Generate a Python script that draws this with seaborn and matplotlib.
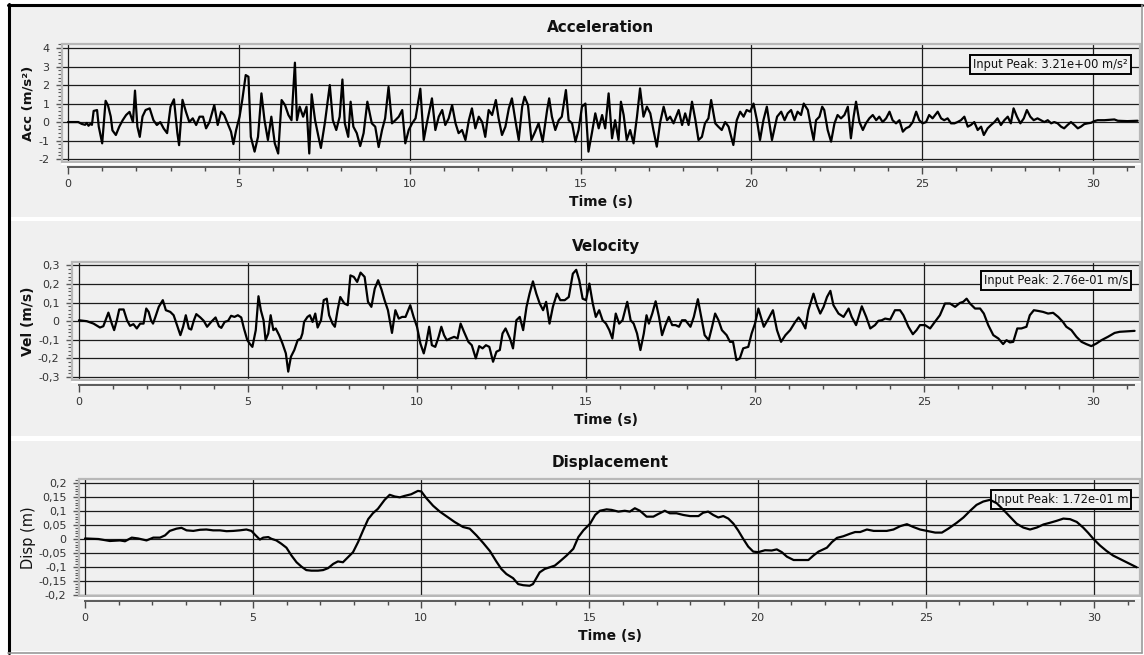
import matplotlib
matplotlib.use("Agg")
import matplotlib.pyplot as plt
import matplotlib.ticker as mticker
from matplotlib.patches import Rectangle
from matplotlib.lines import Line2D
from matplotlib.transforms import offset_copy
import pandas as pd
import seaborn as sns

# ---------------------------------------------------------------- data
acc_time = [
    0.00, 0.30, 0.40, 0.50, 0.55, 0.60, 0.65, 0.70, 0.75, 0.85, 0.90, 1.00, 1.10, 1.17, 1.25,
    1.30, 1.40, 1.50, 1.60, 1.70, 1.80, 1.90, 1.96, 2.03, 2.10, 2.18, 2.27, 2.39, 2.50, 2.60,
    2.70, 2.80, 2.90, 3.00, 3.10, 3.20, 3.25, 3.35, 3.45, 3.55, 3.65, 3.75, 3.85, 3.95, 4.04,
    4.14, 4.28, 4.38, 4.48, 4.57, 4.67, 4.77, 4.84, 4.92, 5.02, 5.10, 5.20, 5.28, 5.35, 5.46,
    5.56, 5.66, 5.75, 5.85, 5.95, 6.05, 6.15, 6.25, 6.35, 6.45, 6.54, 6.64, 6.70, 6.78, 6.88,
    6.98, 7.06, 7.13, 7.23, 7.33, 7.40, 7.52, 7.66, 7.75, 7.85, 7.95, 8.03, 8.10, 8.20, 8.27,
    8.35, 8.45, 8.55, 8.65, 8.76, 8.89, 8.99, 9.09, 9.19, 9.28, 9.38, 9.48, 9.58, 9.68, 9.78,
    9.87, 9.97, 10.07, 10.17, 10.31, 10.41, 10.50, 10.65, 10.75, 10.85, 10.95, 11.04, 11.14, 11.24, 11.34,
    11.43, 11.53, 11.63, 11.73, 11.82, 11.92, 12.02, 12.12, 12.21, 12.31, 12.41, 12.52, 12.60, 12.70, 12.80,
    12.90, 12.99, 13.09, 13.19, 13.29, 13.36, 13.46, 13.56, 13.67, 13.77, 13.89, 14.02, 14.08, 14.16, 14.26,
    14.36, 14.45, 14.57, 14.65, 14.75, 14.85, 14.94, 15.04, 15.14, 15.23, 15.33, 15.43, 15.53, 15.63, 15.72,
    15.82, 15.92, 16.01, 16.11, 16.18, 16.26, 16.35, 16.45, 16.55, 16.65, 16.74, 16.84, 16.94, 17.04, 17.13,
    17.23, 17.33, 17.43, 17.53, 17.62, 17.72, 17.87, 17.97, 18.06, 18.16, 18.26, 18.36, 18.45, 18.55, 18.64,
    18.74, 18.82, 18.94, 19.03, 19.13, 19.23, 19.33, 19.47, 19.57, 19.67, 19.77, 19.86, 19.96, 20.06, 20.16,
    20.25, 20.35, 20.45, 20.60, 20.75, 20.87, 20.97, 21.06, 21.16, 21.26, 21.35, 21.45, 21.53, 21.65, 21.74,
    21.82, 21.89, 21.99, 22.07, 22.13, 22.23, 22.33, 22.43, 22.52, 22.62, 22.72, 22.82, 22.91, 22.99, 23.06,
    23.16, 23.26, 23.35, 23.45, 23.55, 23.65, 23.74, 23.84, 23.94, 24.04, 24.13, 24.23, 24.33, 24.43, 24.52,
    24.62, 24.72, 24.82, 24.91, 25.01, 25.11, 25.20, 25.30, 25.45, 25.55, 25.64, 25.74, 25.84, 25.94, 26.03,
    26.13, 26.23, 26.33, 26.42, 26.52, 26.62, 26.72, 26.80, 26.91, 27.01, 27.11, 27.20, 27.30, 27.40, 27.50,
    27.59, 27.67, 27.77, 27.87, 27.97, 28.06, 28.16, 28.26, 28.37, 28.47, 28.57, 28.67, 28.77, 28.86, 28.96,
    29.06, 29.15, 29.25, 29.35, 29.45, 29.55, 29.64, 29.74, 29.84, 29.94, 30.03, 30.13, 30.33, 30.62, 30.72,
    31.00, 31.30,
]
acc_values = [
    0.00, 0.00, -0.10, -0.15, -0.05, -0.20, -0.10, -0.15, 0.60, 0.65, -0.25, -1.15, 1.15, 0.90, 0.30,
    -0.45, -0.70, -0.25, 0.10, 0.38, 0.55, 0.00, 1.70, -0.25, -0.80, 0.30, 0.65, 0.74, 0.10, -0.16,
    0.00, -0.35, -0.60, 0.83, 1.23, -0.60, -1.25, 1.20, 0.56, 0.00, 0.20, -0.16, 0.29, 0.29, -0.34,
    0.00, 0.92, -0.16, 0.56, 0.38, -0.07, -0.52, -1.19, -0.43, 0.29, 1.20, 2.54, 2.45, -0.80, -1.60,
    -0.80, 1.55, 0.10, -0.97, 0.29, -1.15, -1.70, 1.19, 0.92, 0.38, 0.10, 3.21, 0.10, 0.83, 0.29,
    0.83, -1.70, 1.50, 0.10, -0.80, -1.40, 0.00, 2.00, 0.10, -0.43, 0.29, 2.30, -0.07, -0.80, 1.10,
    -0.25, -0.60, -1.30, -0.60, 1.10, -0.07, -0.25, -1.35, -0.43, 0.20, 1.90, -0.07, 0.10, 0.29, 0.65,
    -1.15, -0.43, -0.07, 0.20, 1.80, -0.97, -0.07, 1.28, -0.43, 0.29, 0.65, -0.16, 0.20, 0.92, -0.07,
    -0.60, -0.43, -0.97, 0.10, 0.74, -0.34, 0.29, 0.00, -0.80, 0.65, 0.38, 1.19, 0.20, -0.70, -0.25,
    0.74, 1.28, 0.10, -0.97, 0.83, 1.37, 0.92, -0.97, -0.52, -0.07, -1.06, 0.65, 1.28, 0.29, -0.43,
    0.10, 0.29, 1.73, 0.10, -0.07, -1.06, -0.43, 0.83, 1.00, -1.60, -0.60, 0.47, -0.34, 0.38, -0.34,
    1.55, -0.88, 0.10, -0.97, 1.10, 0.38, -0.97, -0.43, -1.15, 0.29, 1.82, 0.29, 0.83, 0.47, -0.43,
    -1.33, 0.00, 0.83, 0.10, 0.29, -0.07, 0.65, -0.16, 0.47, -0.16, 1.10, 0.10, -0.97, -0.80, -0.07,
    0.20, 1.19, -0.07, -0.25, -0.43, 0.00, -0.25, -1.24, 0.10, 0.56, 0.29, 0.65, 0.56, 1.00, 0.10,
    -0.97, 0.10, 0.83, -0.97, 0.29, 0.56, 0.10, 0.47, 0.65, 0.10, 0.56, 0.38, 1.00, 0.65, -0.25,
    -0.97, 0.10, 0.29, 0.83, 0.65, -0.43, -1.06, -0.07, 0.38, 0.20, 0.38, 0.83, -0.88, 0.29, 1.10,
    0.00, -0.43, -0.07, 0.20, 0.38, 0.10, 0.29, 0.00, 0.20, 0.56, 0.10, -0.07, 0.10, -0.52, -0.34,
    -0.25, 0.00, 0.56, 0.10, -0.07, 0.00, 0.38, 0.20, 0.56, 0.20, 0.10, 0.20, -0.07, -0.07, 0.00,
    0.10, 0.29, -0.25, -0.16, 0.00, -0.43, -0.25, -0.70, -0.34, -0.16, 0.00, 0.20, -0.16, 0.10, 0.29,
    -0.07, 0.74, 0.29, -0.07, 0.20, 0.65, 0.29, 0.10, 0.20, 0.10, 0.00, 0.10, -0.07, 0.00, -0.07,
    -0.25, -0.34, -0.16, 0.00, -0.16, -0.34, -0.25, -0.11, -0.07, -0.04, 0.05, 0.10, 0.10, 0.14, 0.07,
    0.05, 0.07,
]

vel_time = [
    0.00, 0.23, 0.43, 0.62, 0.72, 0.87, 0.97, 1.04, 1.12, 1.19, 1.32, 1.42, 1.51, 1.61, 1.71,
    1.81, 1.91, 1.99, 2.06, 2.13, 2.19, 2.26, 2.36, 2.48, 2.57, 2.70, 2.80, 2.90, 3.00, 3.08,
    3.16, 3.25, 3.32, 3.40, 3.47, 3.59, 3.69, 3.79, 3.91, 4.04, 4.14, 4.21, 4.31, 4.41, 4.50,
    4.60, 4.70, 4.80, 4.88, 4.98, 5.06, 5.13, 5.23, 5.31, 5.38, 5.46, 5.52, 5.60, 5.67, 5.75,
    5.82, 5.92, 6.02, 6.12, 6.19, 6.27, 6.37, 6.47, 6.56, 6.61, 6.66, 6.76, 6.83, 6.91, 6.99,
    7.06, 7.16, 7.24, 7.33, 7.40, 7.50, 7.57, 7.65, 7.73, 7.85, 7.95, 8.03, 8.13, 8.23, 8.33,
    8.45, 8.55, 8.65, 8.75, 8.85, 8.95, 9.04, 9.14, 9.26, 9.36, 9.46, 9.56, 9.66, 9.80, 9.90,
    10.00, 10.10, 10.20, 10.27, 10.36, 10.44, 10.54, 10.64, 10.72, 10.80, 10.88, 10.98, 11.10, 11.20, 11.29,
    11.39, 11.52, 11.62, 11.74, 11.84, 11.94, 12.04, 12.14, 12.25, 12.35, 12.45, 12.53, 12.62, 12.75, 12.84,
    12.94, 13.04, 13.14, 13.24, 13.33, 13.43, 13.53, 13.63, 13.73, 13.82, 13.92, 14.02, 14.14, 14.24, 14.37,
    14.49, 14.61, 14.71, 14.80, 14.90, 15.00, 15.10, 15.20, 15.29, 15.39, 15.49, 15.59, 15.69, 15.78, 15.88,
    15.98, 16.08, 16.22, 16.32, 16.41, 16.51, 16.61, 16.71, 16.79, 16.86, 16.96, 17.06, 17.16, 17.25, 17.35,
    17.45, 17.55, 17.65, 17.75, 17.84, 17.94, 18.09, 18.19, 18.31, 18.41, 18.51, 18.63, 18.73, 18.82, 18.92,
    19.02, 19.16, 19.26, 19.35, 19.45, 19.55, 19.65, 19.80, 19.90, 20.00, 20.10, 20.26, 20.40, 20.53, 20.65,
    20.77, 20.90, 21.04, 21.19, 21.29, 21.39, 21.49, 21.58, 21.73, 21.83, 21.93, 22.03, 22.13, 22.23, 22.32,
    22.47, 22.62, 22.77, 22.86, 22.99, 23.11, 23.16, 23.29, 23.41, 23.55, 23.65, 23.75, 23.85, 24.00, 24.14,
    24.29, 24.39, 24.54, 24.67, 24.78, 24.88, 25.03, 25.18, 25.32, 25.47, 25.62, 25.77, 25.92, 26.06, 26.16,
    26.26, 26.36, 26.51, 26.66, 26.77, 26.90, 27.05, 27.20, 27.34, 27.44, 27.54, 27.64, 27.76, 27.88, 28.03,
    28.13, 28.25, 28.38, 28.52, 28.67, 28.82, 28.97, 29.11, 29.21, 29.36, 29.51, 29.66, 29.80, 29.95, 30.10,
    30.25, 30.44, 30.64, 30.79, 30.98, 31.23,
]
vel_values = [
    0.005, 0.000, -0.013, -0.034, -0.027, 0.046, -0.013, -0.048, 0.005, 0.063, 0.063, 0.005, -0.025, -0.016, -0.039,
    -0.013, -0.013, 0.068, 0.050, 0.005, -0.013, 0.023, 0.077, 0.113, 0.059, 0.050, 0.032, -0.021, -0.075, -0.030,
    0.032, -0.039, -0.045, 0.005, 0.038, 0.020, 0.002, -0.030, -0.004, 0.020, -0.027, -0.036, -0.004, 0.002, 0.029,
    0.023, 0.032, 0.020, -0.039, -0.102, -0.123, -0.138, -0.048, 0.134, 0.059, 0.005, -0.102, -0.066, 0.032, -0.048,
    -0.039, -0.075, -0.120, -0.173, -0.271, -0.191, -0.155, -0.102, -0.093, -0.066, -0.004, 0.023, 0.032, -0.004, 0.041,
    -0.034, 0.005, 0.113, 0.121, 0.032, -0.013, -0.030, 0.059, 0.130, 0.095, 0.086, 0.246, 0.238, 0.211, 0.261,
    0.238, 0.104, 0.077, 0.175, 0.220, 0.170, 0.113, 0.059, -0.063, 0.059, 0.014, 0.023, 0.023, 0.086, 0.023,
    -0.030, -0.120, -0.173, -0.120, -0.030, -0.129, -0.138, -0.084, -0.030, -0.075, -0.102, -0.093, -0.084, -0.093, -0.013,
    -0.057, -0.111, -0.129, -0.200, -0.134, -0.146, -0.129, -0.138, -0.218, -0.164, -0.155, -0.066, -0.039, -0.093, -0.146,
    0.005, 0.023, -0.048, 0.077, 0.148, 0.214, 0.148, 0.095, 0.059, 0.104, -0.013, 0.077, 0.148, 0.113, 0.113,
    0.130, 0.255, 0.276, 0.220, 0.121, 0.113, 0.202, 0.095, 0.023, 0.059, 0.005, -0.013, -0.048, -0.093, 0.041,
    -0.013, 0.005, 0.104, 0.005, -0.013, -0.066, -0.155, -0.066, 0.032, -0.013, 0.041, 0.107, 0.023, -0.075, -0.021,
    0.023, -0.021, -0.021, -0.030, 0.005, 0.005, -0.030, 0.023, 0.118, 0.023, -0.075, -0.102, -0.030, 0.041, 0.005,
    -0.048, -0.075, -0.111, -0.111, -0.209, -0.200, -0.146, -0.138, -0.066, -0.013, 0.068, -0.030, 0.014, 0.059, -0.048,
    -0.111, -0.075, -0.048, -0.004, 0.020, -0.004, -0.039, 0.059, 0.148, 0.086, 0.041, 0.077, 0.130, 0.163, 0.086,
    0.041, 0.023, 0.068, 0.023, -0.021, 0.050, 0.080, 0.023, -0.039, -0.021, 0.002, 0.005, 0.014, 0.009, 0.059,
    0.059, 0.032, -0.030, -0.070, -0.048, -0.021, -0.021, -0.039, -0.004, 0.032, 0.095, 0.095, 0.077, 0.098, 0.104,
    0.121, 0.095, 0.068, 0.068, 0.041, -0.021, -0.075, -0.093, -0.123, -0.102, -0.114, -0.111, -0.039, -0.039, -0.030,
    0.032, 0.059, 0.055, 0.050, 0.041, 0.045, 0.023, -0.004, -0.030, -0.048, -0.084, -0.111, -0.123, -0.134, -0.120,
    -0.102, -0.084, -0.063, -0.057, -0.055, -0.052,
]

disp_time = [
    0.00, 0.40, 0.74, 1.04, 1.19, 1.39, 1.58, 1.83, 2.03, 2.23, 2.38, 2.52, 2.72, 2.87, 3.02,
    3.22, 3.42, 3.61, 3.81, 4.01, 4.21, 4.41, 4.60, 4.80, 4.95, 5.05, 5.20, 5.30, 5.45, 5.54,
    5.69, 5.84, 5.99, 6.14, 6.29, 6.44, 6.58, 6.73, 6.93, 7.08, 7.23, 7.38, 7.52, 7.67, 7.82,
    7.97, 8.12, 8.27, 8.42, 8.56, 8.71, 8.91, 9.06, 9.21, 9.36, 9.50, 9.70, 9.90, 10.00, 10.15,
    10.35, 10.55, 10.74, 10.99, 11.24, 11.44, 11.64, 11.84, 12.04, 12.23, 12.38, 12.53, 12.73, 12.88, 13.03,
    13.22, 13.32, 13.42, 13.52, 13.67, 13.82, 13.97, 14.12, 14.32, 14.52, 14.67, 14.82, 15.02, 15.17, 15.31,
    15.51, 15.66, 15.86, 16.05, 16.20, 16.35, 16.50, 16.70, 16.90, 17.04, 17.24, 17.39, 17.59, 17.79, 17.99,
    18.24, 18.38, 18.53, 18.68, 18.83, 18.98, 19.13, 19.28, 19.42, 19.57, 19.72, 19.87, 20.02, 20.22, 20.42,
    20.57, 20.72, 20.87, 21.07, 21.27, 21.51, 21.66, 21.81, 22.06, 22.21, 22.36, 22.55, 22.75, 22.90, 23.05,
    23.25, 23.45, 23.65, 23.84, 24.04, 24.24, 24.44, 24.63, 24.83, 25.03, 25.28, 25.48, 25.67, 25.92, 26.12,
    26.32, 26.51, 26.71, 26.91, 27.11, 27.31, 27.50, 27.70, 27.90, 28.10, 28.30, 28.50, 28.69, 28.89, 29.09,
    29.29, 29.49, 29.68, 29.83, 29.98, 30.18, 30.38, 30.57, 30.77, 30.97, 31.17, 31.27,
]
disp_values = [
    0.002, 0.000, -0.007, -0.005, -0.008, 0.005, 0.002, -0.005, 0.005, 0.005, 0.013, 0.029, 0.037, 0.040, 0.031,
    0.029, 0.033, 0.034, 0.031, 0.031, 0.028, 0.029, 0.031, 0.034, 0.029, 0.016, -0.002, 0.005, 0.007, 0.001,
    -0.005, -0.017, -0.031, -0.059, -0.083, -0.099, -0.111, -0.113, -0.113, -0.111, -0.104, -0.089, -0.080, -0.083, -0.065,
    -0.047, -0.011, 0.031, 0.071, 0.092, 0.108, 0.140, 0.158, 0.152, 0.149, 0.154, 0.160, 0.172, 0.170, 0.146,
    0.119, 0.098, 0.082, 0.061, 0.043, 0.037, 0.013, -0.014, -0.043, -0.080, -0.107, -0.125, -0.140, -0.161, -0.165,
    -0.167, -0.161, -0.140, -0.119, -0.107, -0.101, -0.095, -0.080, -0.059, -0.035, 0.007, 0.031, 0.055, 0.086, 0.101,
    0.106, 0.104, 0.098, 0.101, 0.098, 0.110, 0.101, 0.080, 0.080, 0.089, 0.101, 0.092, 0.092, 0.086, 0.082,
    0.082, 0.094, 0.098, 0.086, 0.077, 0.082, 0.073, 0.055, 0.031, 0.001, -0.027, -0.045, -0.047, -0.040, -0.041,
    -0.037, -0.047, -0.063, -0.075, -0.075, -0.075, -0.059, -0.045, -0.031, -0.011, 0.004, 0.010, 0.019, 0.025, 0.025,
    0.034, 0.029, 0.029, 0.029, 0.034, 0.046, 0.053, 0.043, 0.034, 0.029, 0.023, 0.023, 0.037, 0.058, 0.077,
    0.101, 0.122, 0.134, 0.140, 0.128, 0.104, 0.080, 0.055, 0.041, 0.034, 0.041, 0.052, 0.058, 0.065, 0.073,
    0.071, 0.061, 0.041, 0.022, 0.001, -0.023, -0.043, -0.059, -0.071, -0.083, -0.095, -0.101,
]

panel_titles = ["Acceleration", "Velocity", "Displacement"]
y_labels = ["Acc (m/s²)", "Vel (m/s)", "Disp (m)"]
peak_labels = ["Input Peak: 3.21e+00 m/s²", "Input Peak: 2.76e-01 m/s", "Input Peak: 1.72e-01 m"]
x_label = "Time (s)"
x_ticks = [0, 5, 10, 15, 20, 25, 30]
acc_ticks = [-2, -1, 0, 1, 2, 3, 4]
vel_ticks = [-0.3, -0.2, -0.1, 0, 0.1, 0.2, 0.3]
disp_ticks = [-0.2, -0.15, -0.1, -0.05, 0, 0.05, 0.1, 0.15, 0.2]

# ---------------------------------------------------------------- style
sns.set_style("ticks")
plt.rcParams["font.family"] = ["DejaVu Sans"]
plt.rcParams["axes.unicode_minus"] = False

W, H = 1144, 655
BG = "#f0f0f0"
fig = plt.figure(figsize=(W / 100, H / 100), dpi=100, facecolor="white")


def fx(x):
    return x / W


def fy(y):
    return 1 - y / H


# window background bands with white separators
for top, bottom in [(6, 217), (221, 436), (441, 651)]:
    fig.add_artist(Rectangle((fx(9), fy(bottom)), fx(1141) - fx(9), fy(top) - fy(bottom),
                             transform=fig.transFigure, facecolor=BG, edgecolor="none", zorder=0))
# outer window edges
fig.add_artist(Line2D([fx(8.5), fx(8.5)], [fy(4), fy(653)], transform=fig.transFigure, color="black", lw=2.2))
fig.add_artist(Line2D([fx(7.5), fx(1142)], [fy(5), fy(5)], transform=fig.transFigure, color="black", lw=2.2))
fig.add_artist(Line2D([fx(1141.5), fx(1141.5)], [fy(5), fy(653)], transform=fig.transFigure, color="#9a9a9a", lw=1.2))
fig.add_artist(Line2D([fx(8), fx(1142)], [fy(652.5), fy(652.5)], transform=fig.transFigure, color="#9a9a9a", lw=1.2))


def comma_fmt(v, pos):
    s = f"{round(v, 4):g}"
    if s in ("-0", "0.0"):
        s = "0"
    return s.replace(".", ",")


panels = [
    dict(t=acc_time, v=acc_values, ticks=acc_ticks, minor=0.2, box=(62, 44, 1140, 162),
         xlim=(-0.176, 31.37), ylim=(-2.16, 4.22), title_x=601, ylab_bold=True, ylab_size=9.5,
         peak_dy=11),
    dict(t=vel_time, v=vel_values, ticks=vel_ticks, minor=0.02, box=(72, 262, 1140, 380),
         xlim=(-0.207, 31.39), ylim=(-0.316, 0.318), title_x=606, ylab_bold=True, ylab_size=10,
         peak_dy=9),
    dict(t=disp_time, v=disp_values, ticks=disp_ticks, minor=0.01, box=(79, 479, 1140, 596),
         xlim=(-0.178, 31.37), ylim=(-0.2036, 0.2145), title_x=610, ylab_bold=False, ylab_size=10.5,
         peak_dy=11),
]

for i, p in enumerate(panels):
    l, t, r, b = p["box"]
    ax = fig.add_axes([fx(l), fy(b), fx(r) - fx(l), fy(t) - fy(b)])
    ax.set_facecolor(BG)

    df = pd.DataFrame({"time": p["t"], "value": p["v"]})
    sns.lineplot(data=df, x="time", y="value", ax=ax, color="black", lw=1.6,
                 estimator=None, sort=False, zorder=4)

    ax.set_xlim(*p["xlim"])
    ax.set_ylim(*p["ylim"])
    ax.set_xlabel("")
    ax.set_ylabel("")

    ax.xaxis.set_major_locator(mticker.FixedLocator(x_ticks))
    ax.xaxis.set_minor_locator(mticker.MultipleLocator(1))
    ax.yaxis.set_major_locator(mticker.FixedLocator(p["ticks"]))
    ax.yaxis.set_minor_locator(mticker.MultipleLocator(p["minor"]))
    ax.yaxis.set_major_formatter(mticker.FuncFormatter(comma_fmt))
    ax.xaxis.set_major_formatter(mticker.FuncFormatter(lambda v, pos: f"{v:g}"))

    ax.grid(True, which="major", axis="both", color="#1c1c1c", lw=0.9, zorder=1)
    ax.set_axisbelow(True)

    for side in ("top", "right", "left"):
        ax.spines[side].set_visible(False)
    ax.spines["bottom"].set_position(("outward", 3.8))
    ax.spines["bottom"].set_color("#5a5a5a")
    ax.spines["bottom"].set_linewidth(1.4)
    ax.spines["bottom"].set_bounds(0, 31.2)

    ax.tick_params(axis="x", which="major", direction="out", length=5, width=1.0,
                   color="#4a4a4a", labelsize=8, labelcolor="#333333", pad=3.5)
    ax.tick_params(axis="x", which="minor", direction="out", length=2.6, width=1.0, color="#4a4a4a")
    ax.tick_params(axis="y", which="major", direction="out", length=4.5, width=1.0,
                   color="#5a5a5a", labelsize=8, labelcolor="#333333", pad=4.5)
    ax.tick_params(axis="y", which="minor", direction="out", length=2.6, width=0.8, color="#5a5a5a")

    # plot-area frame
    ax.add_patch(Rectangle((0, 0), 1, 1, transform=ax.transAxes, fill=False,
                           edgecolor="#b8b8b8", lw=1.6, clip_on=False, zorder=5))
    ax.add_line(Line2D([0, 1], [0, 0], transform=offset_copy(ax.transAxes, fig, y=-2, units="dots"),
                       color="white", lw=1.4, clip_on=False, zorder=5))

    # peak annotation box
    ax.text(1, 1, peak_labels[i], ha="right", va="top", fontsize=8.3, color="#111111",
            transform=offset_copy(ax.transAxes, fig, x=-12, y=-(p["peak_dy"] + 3), units="dots"),
            bbox=dict(boxstyle="square,pad=0.25", facecolor=BG, edgecolor="black", lw=1.4),
            zorder=3)

    cx = p["title_x"]
    fig.text(fx(cx), fy(t - 16), panel_titles[i], ha="center", va="center",
             fontsize=11, fontweight="bold", color="#111111")
    fig.text(fx(cx), fy(b + 40), x_label, ha="center", va="center",
             fontsize=10, fontweight="bold", color="#111111")
    fig.text(fx(28), fy((t + b) / 2), y_labels[i], ha="center", va="center", rotation=90,
             fontsize=p["ylab_size"], fontweight="bold" if p["ylab_bold"] else "normal",
             color="#111111")

fig.savefig("out.png", dpi=100, facecolor="white")
